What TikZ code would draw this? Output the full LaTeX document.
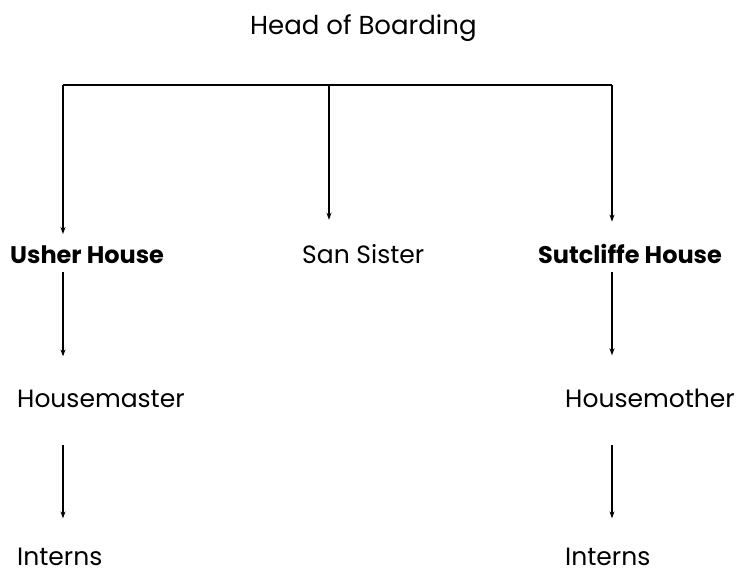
\documentclass[tikz,border=0pt]{standalone}
\usepackage{fontspec}
\setmainfont{Poppins}
\usetikzlibrary{arrows.meta, positioning}

\begin{document}
\begin{tikzpicture}[
        x=1pt, y=-1pt,
        stilling/.style = {anchor=base west, inner sep=0pt},
        linje/.style = {black, line width=1.1pt},
        pilned/.style = {linje, -{Stealth[length=7pt, width=5pt]}},
        font=\fontsize{25}{29}\selectfont
        ]
        \useasboundingbox (0,0) rectangle (740,571);

        % columns and the bar
        \coordinate (bar) at (0,85);
        \coordinate (venstre) at (63,0);
        \coordinate (midt) at (329,0);
        \coordinate (hoyre) at (612,0);

        \node[stilling, font=\fontsize{26}{30}\selectfont] (head) at (250,34) {Head of Boarding};
        \node[stilling, font=\fontsize{24}{28}\selectfont\bfseries] (usher) at (10,263) {Usher House};
        \node[stilling] (san) at (302,263) {San Sister};
        \node[stilling, font=\fontsize{24}{28}\selectfont\bfseries] (sutcliffe) at (538,263) {Sutcliffe House};
        \node[stilling] (master) at (17,407) {Housemaster};
        \node[stilling] (mother) at (565,407) {Housemother};
        \node[stilling] (internsV) at (17,565) {Interns};
        \node[stilling] (internsH) at (565,565) {Interns};

        \draw[linje] (venstre |- bar) -- (hoyre |- bar);
        \draw[pilned, shorten >=11pt] (venstre |- bar) -- (venstre |- usher.north);
        \draw[pilned, shorten >=24pt] (midt |- bar) -- (midt |- san.north);
        \draw[pilned, shorten >=22pt] (hoyre |- bar) -- (hoyre |- sutcliffe.north);

        \draw[pilned, shorten <=9pt, shorten >=33pt] (venstre |- usher.south) -- (venstre |- master.north);
        \draw[pilned, shorten <=9pt, shorten >=33pt] (hoyre |- sutcliffe.south) -- (hoyre |- mother.north);
        \draw[pilned, shorten <=38pt, shorten >=29pt] (venstre |- master.south) -- (venstre |- internsV.north);
        \draw[pilned, shorten <=38pt, shorten >=29pt] (hoyre |- mother.south) -- (hoyre |- internsH.north);

      \end{tikzpicture}
\end{document}
